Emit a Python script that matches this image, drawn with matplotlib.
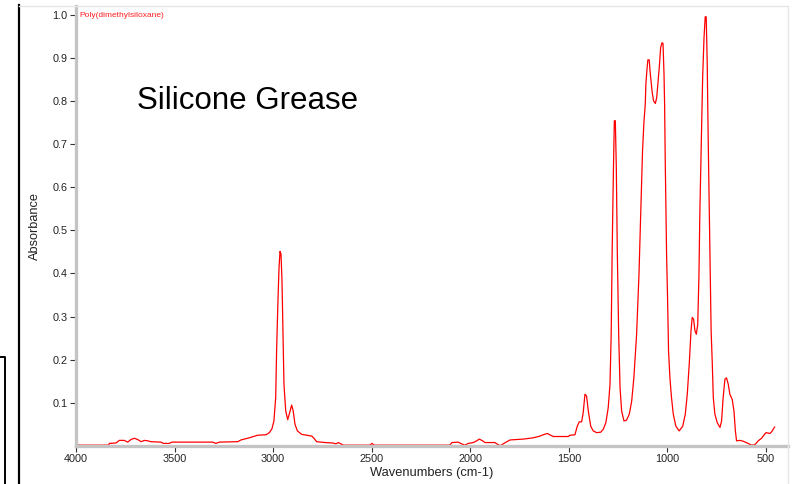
import matplotlib
matplotlib.use("Agg")
import matplotlib.pyplot as plt
from matplotlib.lines import Line2D
from matplotlib.ticker import MultipleLocator

plt.rcParams['font.family'] = ['Liberation Sans', 'DejaVu Sans']

# spectrum (wavenumber cm-1, absorbance)
wavenumbers = [4000, 3834, 3831, 3797, 3780, 3755, 3738, 3721, 3704, 3687, 3670, 3653, 3636, 3620,
               3569, 3557, 3527, 3513, 3307, 3290, 3273, 3180, 3163, 3121, 3078, 3036, 3019, 3006,
               2996, 2987, 2982, 2975, 2970, 2965, 2960, 2955, 2950, 2945, 2936, 2926, 2918, 2906,
               2898, 2889, 2877, 2855, 2804, 2793, 2779, 2737, 2698, 2681, 2669, 2657, 2644, 2509,
               2499, 2487, 2103, 2093, 2061, 2049, 2027, 2010, 1985, 1967, 1954, 1937, 1925, 1875,
               1858, 1846, 1833, 1798, 1731, 1680, 1646, 1630, 1609, 1596, 1579, 1503, 1494, 1469,
               1457, 1447, 1435, 1427, 1418, 1410, 1401, 1389, 1376, 1359, 1338, 1325, 1312, 1300,
               1291, 1285, 1280, 1274, 1269, 1264, 1259, 1254, 1247, 1240, 1232, 1220, 1207, 1193,
               1181, 1170, 1156, 1144, 1134, 1126, 1119, 1112, 1109, 1104, 1099, 1092, 1088, 1083,
               1077, 1070, 1061, 1054, 1048, 1041, 1034, 1027, 1022, 1017, 1014, 1011, 1007, 1004,
               999, 994, 987, 979, 970, 957, 940, 922, 909, 899, 889, 880, 874, 867, 860, 853, 846,
               840, 835, 828, 821, 814, 808, 803, 798, 793, 788, 783, 778, 772, 767, 759, 747, 733,
               725, 717, 708, 700, 691, 683, 671, 662, 655, 649, 632, 615, 595, 573, 556, 539, 522,
               500, 480, 471, 456]
absorbance = [0.002, 0.002, 0.006, 0.007, 0.013, 0.013, 0.009, 0.015, 0.018, 0.015, 0.010, 0.013, 0.012, 0.010,
              0.009, 0.006, 0.006, 0.009, 0.009, 0.006, 0.009, 0.010, 0.014, 0.019, 0.025, 0.026, 0.031, 0.040,
              0.058, 0.112, 0.228, 0.344, 0.414, 0.451, 0.445, 0.383, 0.267, 0.143, 0.081, 0.061, 0.074, 0.095,
              0.081, 0.050, 0.035, 0.027, 0.023, 0.018, 0.010, 0.008, 0.007, 0.005, 0.008, 0.005, 0.002, 0.002,
              0.006, 0.002, 0.002, 0.008, 0.009, 0.006, 0.002, 0.006, 0.008, 0.012, 0.016, 0.012, 0.008, 0.008,
              0.003, 0.001, 0.005, 0.014, 0.016, 0.019, 0.023, 0.026, 0.029, 0.026, 0.022, 0.022, 0.025, 0.026,
              0.046, 0.056, 0.056, 0.077, 0.120, 0.116, 0.081, 0.046, 0.035, 0.031, 0.032, 0.039, 0.054, 0.089,
              0.143, 0.259, 0.452, 0.630, 0.754, 0.754, 0.646, 0.452, 0.259, 0.135, 0.081, 0.058, 0.060, 0.074,
              0.104, 0.158, 0.259, 0.398, 0.553, 0.684, 0.750, 0.793, 0.839, 0.870, 0.895, 0.895, 0.870, 0.847,
              0.820, 0.800, 0.794, 0.808, 0.839, 0.878, 0.924, 0.935, 0.933, 0.862, 0.793, 0.669, 0.545, 0.445,
              0.344, 0.220, 0.158, 0.112, 0.074, 0.046, 0.035, 0.046, 0.074, 0.120, 0.190, 0.267, 0.298, 0.294,
              0.267, 0.259, 0.282, 0.390, 0.545, 0.700, 0.855, 0.947, 0.995, 0.995, 0.893, 0.715, 0.561, 0.390,
              0.267, 0.190, 0.112, 0.074, 0.054, 0.043, 0.058, 0.112, 0.155, 0.158, 0.143, 0.120, 0.108, 0.081,
              0.035, 0.012, 0.013, 0.011, 0.007, 0.002, 0.003, 0.012, 0.018, 0.031, 0.029, 0.033, 0.044]

x_ticks = [4000, 3500, 3000, 2500, 2000, 1500, 1000, 500]
y_ticks = [0.1, 0.2, 0.3, 0.4, 0.5, 0.6, 0.7, 0.8, 0.9, 1.0]

fig = plt.figure(figsize=(7.97, 4.84), dpi=100)
ax = fig.add_axes([76 / 797, 38 / 484, 712 / 797, 440 / 484])

ax.plot(wavenumbers, absorbance, color='#ff0000', linewidth=0.9)

ax.set_xlim(4000, 388)
ax.set_ylim(0, 1.02)
ax.set_xticks(x_ticks)
ax.set_xticklabels([str(t) for t in x_ticks])
ax.set_yticks(y_ticks)
ax.set_yticklabels([f'{t:.1f}' for t in y_ticks])
ax.xaxis.set_minor_locator(MultipleLocator(100))
ax.yaxis.set_minor_locator(MultipleLocator(0.02))

for side in ['left', 'bottom']:
    ax.spines[side].set_color('#c4c4c4')
    ax.spines[side].set_linewidth(2.4)
for side in ['top', 'right']:
    ax.spines[side].set_visible(False)

ax.tick_params(which='major', direction='out', length=4, width=0.8, color='#333333',
               labelsize=7.8, labelcolor='#222222', pad=2)
ax.tick_params(which='minor', direction='inout', length=2, width=0.8, color='#444444')

ax.set_xlabel('Wavenumbers (cm-1)', fontsize=9.3, color='#222222', labelpad=2)
ax.set_ylabel('Absorbance', fontsize=9.2, color='#222222', labelpad=8)

ax.text(3985, 0.998, 'Poly(dimethylsiloxane)', color='#ff2020',
        fontsize=6.0, ha='left', va='center')
fig.text(248 / 797, 1 - 101 / 484, 'Silicone Grease', fontsize=22.5, ha='center', va='center',
         color='black')

# outer frame lines from the original screenshot
H = 484.0
W = 797.0
fig.add_artist(Line2D([19 / W, 19 / W], [0, 1 - 5 / H], color='black', linewidth=1.6))
fig.add_artist(Line2D([19 / W, 788 / W], [1 - 6 / H, 1 - 6 / H], color='#e6e6e6', linewidth=1.0))
fig.add_artist(Line2D([788 / W, 788 / W], [0, 1 - 6 / H], color='#e6e6e6', linewidth=1.0))
fig.add_artist(Line2D([0, 5 / W, 5 / W], [1 - 357 / H, 1 - 357 / H, 0], color='black', linewidth=1.4))

fig.savefig('out.png', dpi=100)
